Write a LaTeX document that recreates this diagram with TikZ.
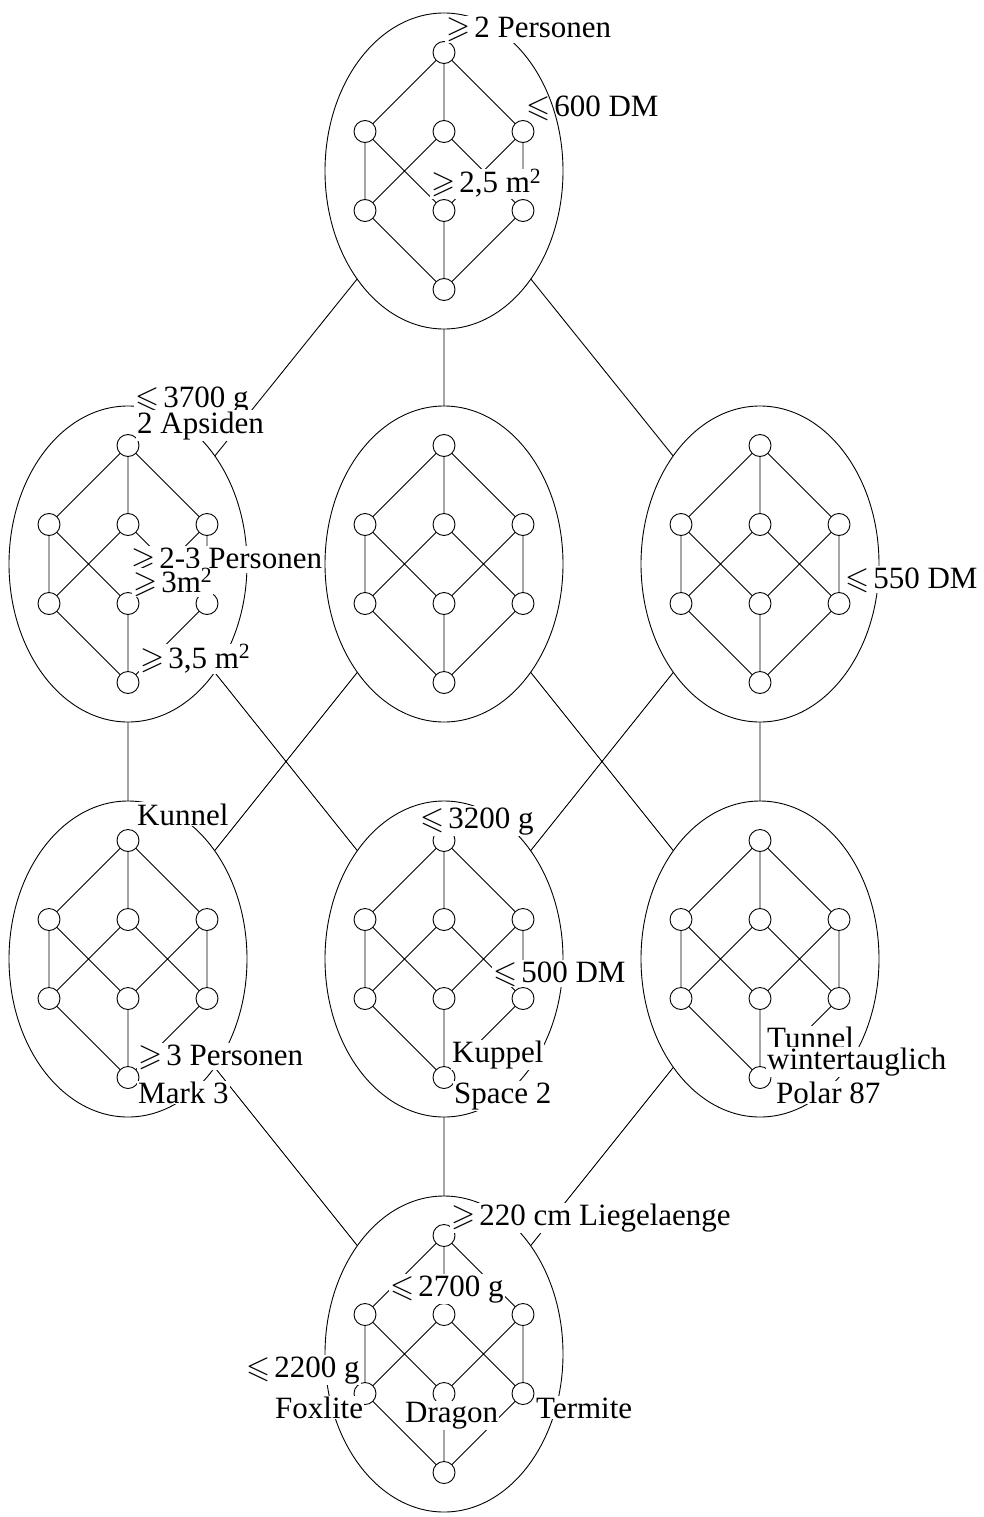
\documentclass[tikz,border=0pt]{standalone}
\usepackage{amssymb}
\usepackage{fontspec}
\setmainfont{Liberation Serif}
\usetikzlibrary{shapes.geometric}
\newcommand{\mylattice}[3]{%
 \begin{scope}[shift={(#2,#3)}]
  \node[pt] (#1t) at (0,-118.5) {};
  \node[pt] (#1a) at (-79,-39.5) {};
  \node[pt] (#1b) at (0,-39.5) {};
  \node[pt] (#1c) at (79,-39.5) {};
  \node[pt] (#1d) at (-79,39.5) {};
  \node[pt] (#1e) at (0,39.5) {};
  \node[pt] (#1f) at (79,39.5) {};
  \node[pt] (#1z) at (0,118.5) {};
  \draw[edge] (#1t)--(#1a) (#1t)--(#1b) (#1t)--(#1c)
   (#1a)--(#1d) (#1a)--(#1e) (#1b)--(#1d) (#1b)--(#1f) (#1c)--(#1e) (#1c)--(#1f)
   (#1d)--(#1z) (#1e)--(#1z) (#1f)--(#1z);
 \end{scope}}
\newcommand{\mygeq}{$\geqslant$\kern4pt}
\newcommand{\myleq}{$\leqslant$\kern4pt}
\begin{document}
\begin{tikzpicture}[x=1pt,y=-1pt,
  ell/.style={draw,ellipse,minimum width=238pt,minimum height=316pt,inner sep=0pt,outer sep=0pt,line width=0.9pt},
  pt/.style={draw,circle,fill=white,minimum size=22pt,inner sep=0pt,outer sep=0pt,line width=0.9pt},
  edge/.style={line width=0.9pt},
  lab/.style={anchor=base west,inner sep=1pt,fill=white,font=\fontsize{31}{31}\selectfont},
  labnf/.style={anchor=base west,inner sep=1pt,font=\fontsize{31}{31}\selectfont}]
\useasboundingbox (0,0) rectangle (984,1517);
% outer ellipses
\node[ell] (T) at (444,171) {};
\node[ell] (L) at (128,564) {};
\node[ell] (M) at (444,564) {};
\node[ell] (R) at (760,564) {};
\node[ell] (BL) at (128,959) {};
\node[ell] (BM) at (444,959) {};
\node[ell] (BR) at (760,959) {};
\node[ell] (B) at (444,1354) {};
\draw[edge] (T)--(L) (T)--(M) (T)--(R)
  (L)--(BL) (L)--(BM) (M)--(BL) (M)--(BR) (R)--(BM) (R)--(BR)
  (BL)--(B) (BM)--(B) (BR)--(B);
% inner lattices
\mylattice{t}{444}{171}
\mylattice{l}{128}{564}
\mylattice{m}{444}{564}
\mylattice{r}{760}{564}
\mylattice{bl}{128}{959}
\mylattice{bm}{444}{959}
\mylattice{br}{760}{959}
\mylattice{b}{444}{1354}
% labels
\node[lab] (l1) at (445,38) {\mygeq 2 Personen};
\node[labnf] (l2) at (525,117) {\myleq 600 DM};
\node[lab] (l3) at (430,193) {\mygeq 2,5 m\textsuperscript{2}};
\node[lab] (l4) at (134,407) {\myleq 3700 g};
\node[lab] (l5) at (136,433) {2 Apsiden};
\node[lab] (l6) at (130,568) {\mygeq 2-3 Personen};
\node[lab] (l7) at (132,592) {\mygeq 3m\textsuperscript{2}};
\node[lab] (l8) at (139,668) {\mygeq 3,5 m\textsuperscript{2}};
\node[lab] (l9) at (844,588) {\myleq 550 DM};
\node[lab] (l10) at (136,825) {Kunnel};
\node[lab] (l11) at (137,1065) {\mygeq 3 Personen};
\node[lab] (l12) at (137,1103) {Mark 3};
\node[lab] (l13) at (419,828) {\myleq 3200 g};
\node[lab] (l14) at (492,982) {\myleq 500 DM};
\node[lab] (l15) at (451,1062) {Kuppel};
\node[lab] (l16) at (453,1103) {Space 2};
\node[lab] (l17) at (766,1048) {Tunnel};
\node[lab] (l18) at (766,1069) {wintertauglich};
\node[lab] (l19) at (775,1103) {Polar 87};
\node[lab] (l20) at (450,1225) {\mygeq 220 cm Liegelaenge};
\node[lab] (l21) at (389,1296) {\myleq 2700 g};
\node[lab] (l22) at (245,1377) {\myleq 2200 g};
\node[lab] (l23) at (274,1418) {Foxlite};
\node[lab] (l24) at (404,1422) {Dragon};
\node[lab] (l25) at (535,1418) {Termite};
\end{tikzpicture}
\end{document}
